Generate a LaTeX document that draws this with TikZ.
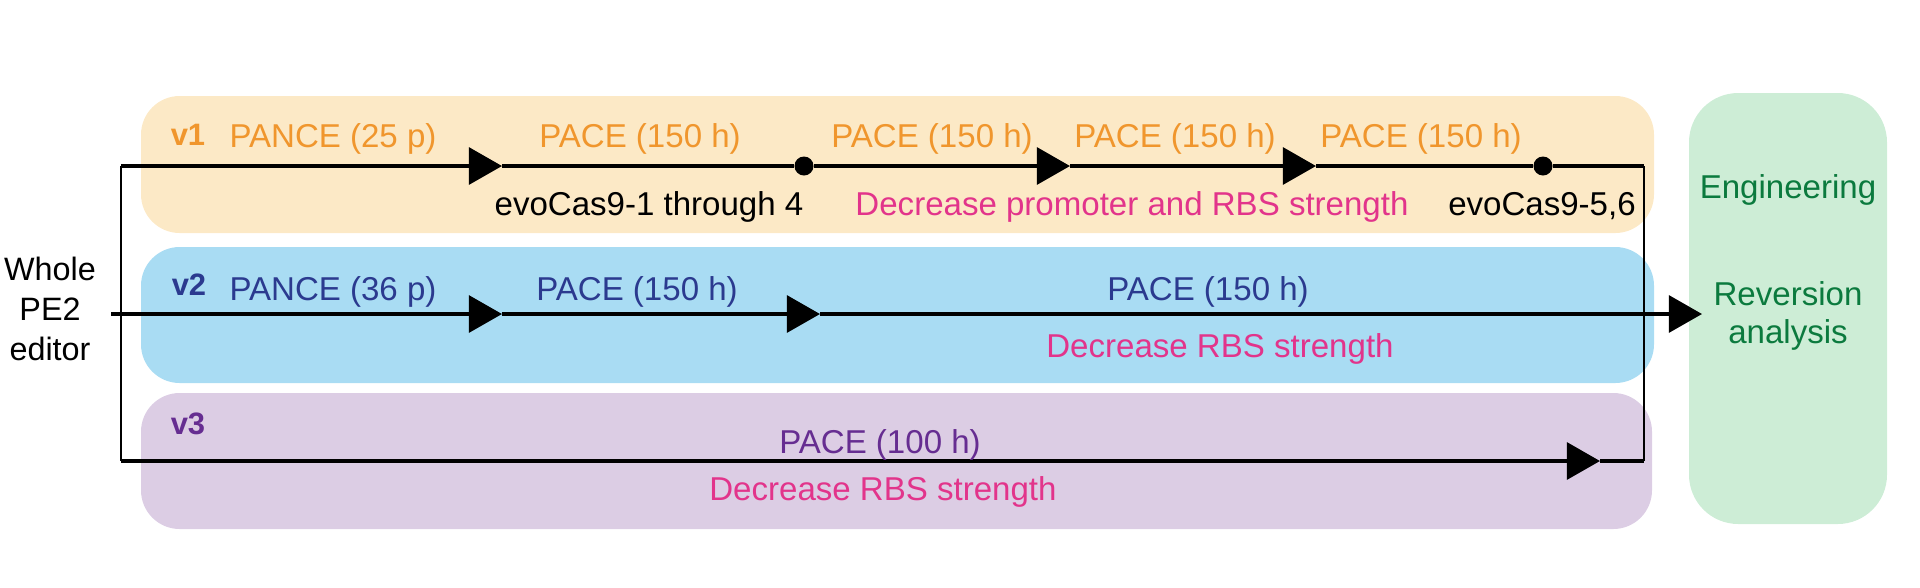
\documentclass[tikz,border=0pt]{standalone}
\usepackage{fontspec}
\setmainfont{Liberation Sans}
\usetikzlibrary{arrows.meta}
\definecolor{VOrange}{HTML}{F0962D}
\definecolor{VPeach}{HTML}{FCE9C6}
\definecolor{VSky}{HTML}{A9DCF3}
\definecolor{VNavy}{HTML}{2B3A8F}
\definecolor{VLilac}{HTML}{DCCDE4}
\definecolor{VPurple}{HTML}{662D91}
\definecolor{VMagenta}{HTML}{E2348B}
\definecolor{VMint}{HTML}{CDEDD6}
\definecolor{VGreen}{HTML}{0B7A3E}
\tikzset{
    band/.style = {rounded corners=11pt},
    flow/.style = {draw, line width=0.9pt},
    arrow/.style = {flow, -{Triangle[length=9.4pt,width=10.5pt]}},
    link/.style = {draw, line width=0.6pt},
    dot/.style = {circle, fill=black, inner sep=0pt, minimum size=5.4pt},
    lab/.style = {anchor=base, inner sep=0pt, font=\fontsize{9.4}{11}\selectfont},
    tag/.style = {anchor=base, inner sep=0pt, font=\fontsize{8.8}{10}\selectfont\bfseries}
}

\begin{document}
\begin{tikzpicture}[x=0.01cm,y=-0.01cm]
        \useasboundingbox (0,0) rectangle (1920,587);
        \fill[band,color=VPeach] (141,96) rectangle (1654,233);
        \fill[band,color=VSky] (141,247) rectangle (1654,383);
        \fill[band,color=VLilac] (141,393) rectangle (1652,529);
        \fill[rounded corners=14pt,color=VMint] (1689,93) rectangle (1887,524);
        % junctions
        \coordinate (in) at (111,314);
        \coordinate (L1) at (121,166);
        \coordinate (L3) at (121,461);
        \coordinate (R1) at (1644,166);
        \coordinate (R3) at (1644,461);
        \coordinate (a11) at (502,166);
        \coordinate (a12) at (1070,166);
        \coordinate (a13) at (1316,166);
        \coordinate (a21) at (502,314);
        \coordinate (a22) at (820,314);
        \coordinate (out) at (1702,314);
        \coordinate (a31) at (1600,461);
        \node[dot] (d11) at (804,166) {};
        \node[dot] (d12) at (1543,166) {};
        % v1
        \draw[link] (L1) -- (L3);
        \draw[link] (R1) -- (R3);
        \draw[arrow] (L1) -- (a11);
        \draw[flow] (a11) -- (d11);
        \draw[arrow] (d11) -- (a12);
        \draw[arrow] (a12) -- (a13);
        \draw[flow] (a13) -- (d12);
        \draw[flow] (d12) -- (R1);
        % v2
        \draw[arrow] (in) -- (a21);
        \draw[arrow] (a21) -- (a22);
        \draw[arrow] (a22) -- (out);
        % v3
        \draw[arrow] (L3) -- (a31);
        \draw[flow] (a31) -- (R3);
        % labels
        \node[anchor=north,inner sep=0pt,align=center,font=\fontsize{9.2}{11.4}\selectfont] (pe2) at (50,256) {Whole\\PE2\\editor};
        \node[tag,color=VOrange] (v1) at (188,145) {v1};
        \node[lab,color=VOrange] (p11) at (333,147) {PANCE (25 p)};
        \node[lab,color=VOrange] (p12) at (640,147) {PACE (150 h)};
        \node[lab,color=VOrange] (p13) at (932,147) {PACE (150 h)};
        \node[lab,color=VOrange] (p14) at (1175,147) {PACE (150 h)};
        \node[lab,color=VOrange] (p15) at (1421,147) {PACE (150 h)};
        \node[lab] (e11) at (649,215) {evoCas9-1 through 4};
        \node[lab,color=VMagenta] (m1) at (1132,215) {Decrease promoter and RBS strength};
        \node[lab] (e12) at (1542,215) {evoCas9-5,6};
        \node[tag,color=VNavy] (v2) at (189,295) {v2};
        \node[lab,color=VNavy] (p21) at (333,300) {PANCE (36 p)};
        \node[lab,color=VNavy] (p22) at (637,300) {PACE (150 h)};
        \node[lab,color=VNavy] (p23) at (1208,300) {PACE (150 h)};
        \node[lab,color=VMagenta] (m2) at (1220,357) {Decrease RBS strength};
        \node[tag,color=VPurple] (v3) at (188,434) {v3};
        \node[lab,color=VPurple] (p31) at (880,453) {PACE (100 h)};
        \node[lab,color=VMagenta] (m3) at (883,500) {Decrease RBS strength};
        \node[lab,color=VGreen] (eng) at (1788,198) {Engineering};
        \node[anchor=north,inner sep=0pt,align=center,color=VGreen,font=\fontsize{9.4}{10.8}\selectfont] (rev) at (1788,281) {Reversion\\analysis};
    \end{tikzpicture}
\end{document}
